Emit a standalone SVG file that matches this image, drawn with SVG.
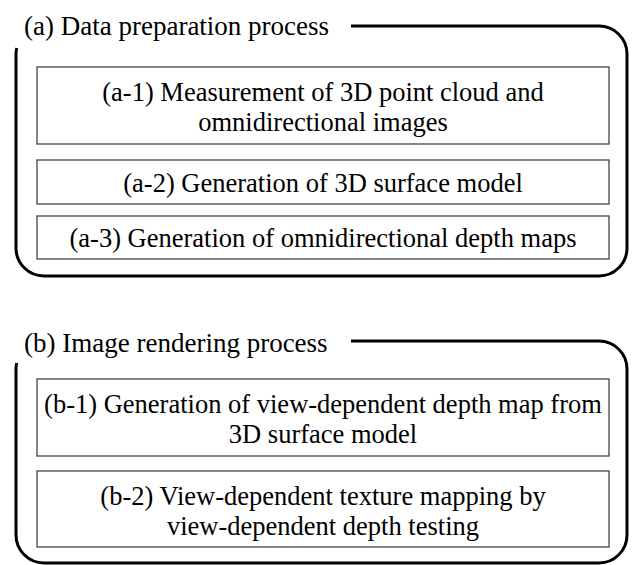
<svg xmlns="http://www.w3.org/2000/svg" width="632" height="565" viewBox="0 0 632 565">
<style>
  text { font-family: "Liberation Serif", "Times New Roman", serif; font-size: 26.5px; fill: #000; }
  .title { font-size: 27px; }
  .frame { fill: none; stroke: #000; stroke-width: 3; }
  .box { fill: #fff; stroke: #444; stroke-width: 1.3; }
  .c { text-anchor: middle; }
</style>
<rect width="632" height="565" fill="#fff"/>
<g id="groupA">
  <path class="frame" d="M351 26 H599 A28 28 0 0 1 627 54 V248 A28 28 0 0 1 599 276 H44 A28 28 0 0 1 16 248 V54 A28 28 0 0 1 16.7 48"/>
  <text class="title" x="24" y="35">(a) Data preparation process</text>
</g>
<g id="a1">
  <rect class="box" x="37" y="67" width="572" height="77"/>
  <text class="c" x="323" y="101">(a-1) Measurement of 3D point cloud and</text>
  <text class="c" x="323" y="131">omnidirectional images</text>
</g>
<g id="a2">
  <rect class="box" x="37" y="160" width="572" height="44"/>
  <text class="c" x="323" y="192">(a-2) Generation of 3D surface model</text>
</g>
<g id="a3">
  <rect class="box" x="37" y="216" width="572" height="43"/>
  <text class="c" x="323" y="247">(a-3) Generation of omnidirectional depth maps</text>
</g>
<g id="groupB">
  <path class="frame" d="M351 341 H599 A28 28 0 0 1 627 369 V535 A28 28 0 0 1 599 563 H44 A28 28 0 0 1 16 535 V369 A28 28 0 0 1 16.7 363"/>
  <text class="title" x="24" y="352">(b) Image rendering process</text>
</g>
<g id="b1">
  <rect class="box" x="37" y="379" width="572" height="77"/>
  <text class="c" x="323" y="413">(b-1) Generation of view-dependent depth map from</text>
  <text class="c" x="323" y="443">3D surface model</text>
</g>
<g id="b2">
  <rect class="box" x="37" y="471" width="572" height="76"/>
  <text class="c" x="323" y="505">(b-2) View-dependent texture mapping by</text>
  <text class="c" x="323" y="535">view-dependent depth testing</text>
</g>
<g id="connectors"></g>
</svg>
